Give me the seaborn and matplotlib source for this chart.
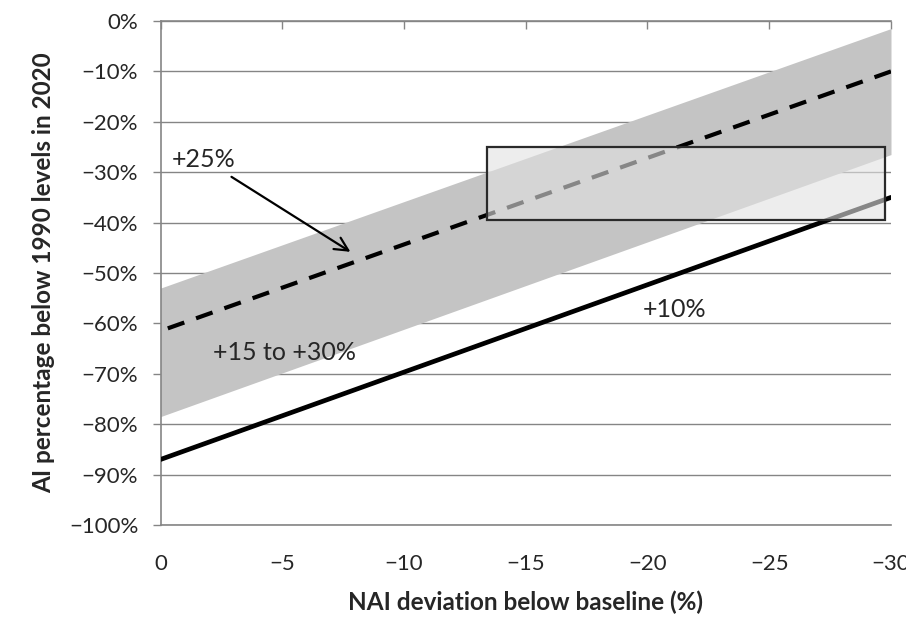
import matplotlib
matplotlib.use("Agg")
import matplotlib.pyplot as plt
import seaborn as sns
import pandas as pd
from matplotlib.patches import Rectangle
from matplotlib.ticker import FuncFormatter

# ---- data ----
nai = [0, -30]                      # NAI deviation below baseline (%)
dashed_25 = [-61.5, -10.0]          # +25% line
solid_10 = [-87.0, -35.0]           # +10% line
band_upper = [-53.0, -1.5]          # +15 to +30% band upper edge
band_lower = [-78.5, -26.5]         # +15 to +30% band lower edge
box_x = [-13.4, -29.75]             # highlighted box, x range
box_y = [-25.0, -39.5]              # highlighted box, y range
x_ticks = [0, -5, -10, -15, -20, -25, -30]
y_ticks = [0, -10, -20, -30, -40, -50, -60, -70, -80, -90, -100]

sns.set_theme(style="white")
plt.rcParams["font.family"] = ["Lato", "DejaVu Sans"]
plt.rcParams["axes.unicode_minus"] = True

fig = plt.figure(figsize=(9.06, 6.27), dpi=100)
ax = fig.add_axes([160.5 / 906, 1 - 525 / 627, (891 - 160.5) / 906, (525 - 21) / 627])

grid_c = "#858585"
for yv in y_ticks:
    ax.axhline(yv, color=grid_c, lw=1.0, zorder=0)

ax.fill_between(nai, band_lower, band_upper, color="#c4c4c4", lw=0, zorder=1)

df = pd.DataFrame({"nai": nai, "d25": dashed_25, "s10": solid_10})
sns.lineplot(data=df, x="nai", y="d25", ax=ax, color="black", lw=3.0,
             dashes=False, zorder=3)
ax.lines[-1].set_dashes((4.2, 3.0))
sns.lineplot(data=df, x="nai", y="s10", ax=ax, color="black", lw=3.4, zorder=3)

ax.add_patch(Rectangle((box_x[0], box_y[1]), box_x[1] - box_x[0], box_y[0] - box_y[1],
                       facecolor="#e2e2e2", alpha=0.6, edgecolor="none", zorder=4))
ax.add_patch(Rectangle((box_x[0], box_y[1]), box_x[1] - box_x[0], box_y[0] - box_y[1],
                       facecolor="none", edgecolor="#2a2a2a", lw=1.6, zorder=5))

ax.annotate("+25%", xy=(-7.8, -45.8), xytext=(-0.45, -27.4),
            fontsize=18, ha="left", va="center",
            arrowprops=dict(arrowstyle="->", color="black", lw=1.6,
                            shrinkA=4, shrinkB=0, mutation_scale=24),
            zorder=6)
ax.text(-5.1, -65.7, "+15 to +30%", fontsize=18, ha="center", va="center", zorder=6)
ax.text(-21.1, -57.3, "+10%", fontsize=18, ha="center", va="center", zorder=6)

ax.set_xlim(0, -30)
ax.set_ylim(-100, 0)
ax.set_xticks(x_ticks)
ax.set_yticks(y_ticks)
ax.xaxis.set_major_formatter(FuncFormatter(lambda v, p: f"{int(round(v))}".replace("-", "\u2212")))
ax.yaxis.set_major_formatter(FuncFormatter(lambda v, p: f"{int(round(v))}%".replace("-", "\u2212")))

ax.tick_params(axis="x", bottom=False, top=True, labelbottom=True, labeltop=False,
               direction="in", length=6, width=1, color=grid_c, pad=21, labelsize=16)
ax.tick_params(axis="y", left=True, direction="out", length=6, width=1, color=grid_c,
               pad=10, labelsize=16)

for s in ["left", "top", "bottom"]:
    ax.spines[s].set_visible(True)
    ax.spines[s].set_color(grid_c)
    ax.spines[s].set_linewidth(1.2)
ax.spines["right"].set_visible(False)

ax.set_xlabel("NAI deviation below baseline (%)", fontsize=17.5, fontweight="bold", labelpad=12)
ax.set_ylabel("AI percentage below 1990 levels in 2020", fontsize=17.5, fontweight="bold", labelpad=10)

fig.savefig("out.png", dpi=100, facecolor="white")
